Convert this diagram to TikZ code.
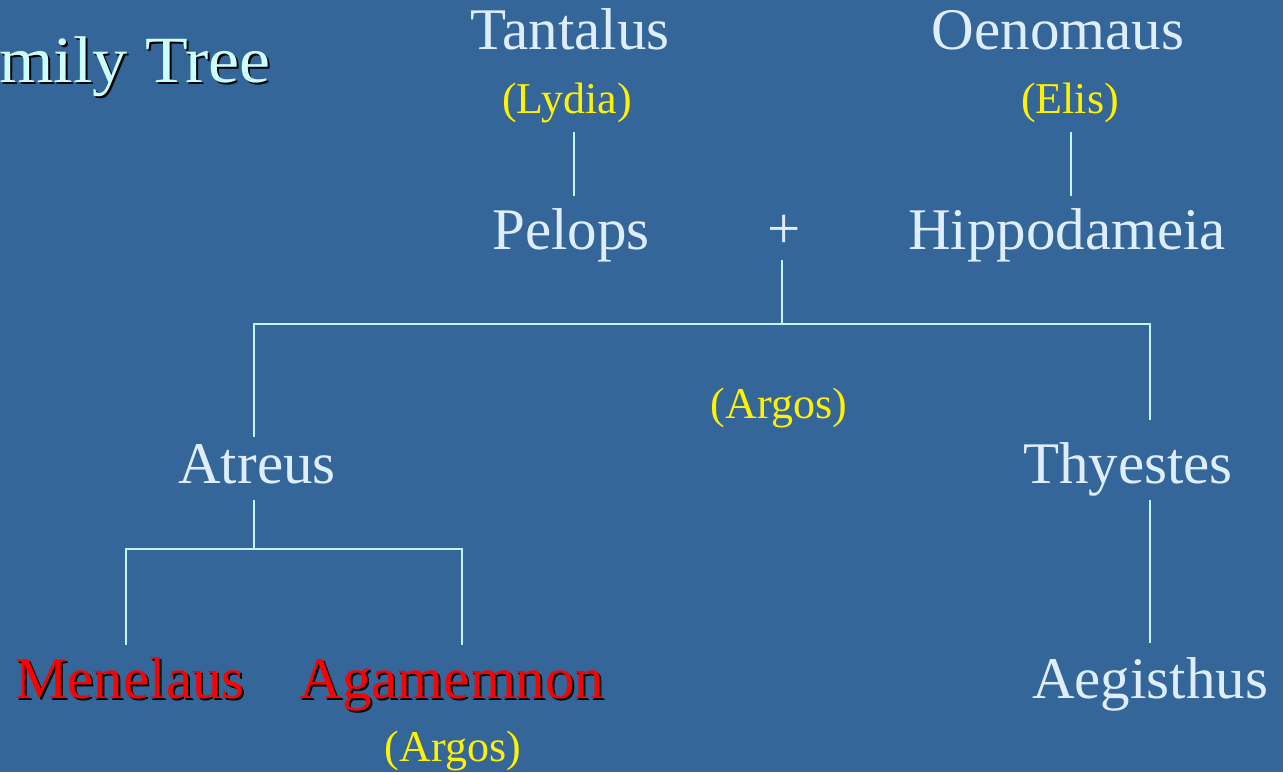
\documentclass[tikz,border=0pt]{standalone}
\usepackage{fontspec}
\setmainfont{Liberation Serif}

\definecolor{slide}{RGB}{52,102,153}
\definecolor{pale}{RGB}{222,238,255}
\definecolor{titlecol}{RGB}{204,255,255}
\definecolor{linkcol}{RGB}{200,245,250}

\begin{document}
\begin{tikzpicture}[x=1pt, y=-1pt,
    person/.style={text=pale, font=\fontsize{59}{70}\selectfont, inner sep=0pt, anchor=base},
    hero/.style={text=red, font=\fontsize{59}{70}\selectfont, inner sep=0pt, anchor=base},
    shade/.style={text=black, font=\fontsize{59}{70}\selectfont, inner sep=0pt, anchor=base},
    place/.style={text=yellow, font=\fontsize{44}{52}\selectfont, inner sep=0pt, anchor=base},
    link/.style={draw=linkcol, line width=2.2pt}]

    \useasboundingbox (0,0) rectangle (1283,772);
    \fill[slide] (0,0) rectangle (1283,772);
    \clip (0,0) rectangle (1283,772);

    % title, cut at the left edge
    \node[shade, font=\fontsize{66}{78}\selectfont, xscale=1.06, anchor=base east] (titleshade) at (273,84) {Family Tree};
    \node[person, text=titlecol, font=\fontsize{66}{78}\selectfont, xscale=1.06, anchor=base east] (title) at (271,82) {Family Tree};

    \node[person]   (tantalus)    at (570,49)  {Tantalus};
    \node[place]    (lydia)       at (567,113) {(Lydia)};
    \node[person]   (pelops)      at (571,249) {Pelops};

    \node[person]   (oenomaus)    at (1058,49)  {Oenomaus};
    \node[place]    (elis)        at (1070,113) {(Elis)};
    \node[person]   (hippodameia) at (1067,249) {Hippodameia};

    \node[person]   (plus)        at (784,248) {+};
    \node[place]    (argos)       at (779,418) {(Argos)};

    \node[person]   (atreus)      at (257,483)  {Atreus};
    \node[person]   (thyestes)    at (1128,483) {Thyestes};

    \node[shade]    (menelausshade)  at (132,700) {Menelaus};
    \node[hero]     (menelaus)       at (130,698) {Menelaus};
    \node[shade]    (agamemnonshade) at (454,700) {Agamemnon};
    \node[hero]     (agamemnon)      at (452,698) {Agamemnon};
    \node[place]    (argosb)         at (453,761) {(Argos)};

    \node[person]   (aegisthus)   at (1150,698) {Aegisthus};

    \coordinate (lydiastem)  at (574,132);
    \coordinate (pelopstem)  at (574,196);
    \coordinate (elisstem)   at (1071,132);
    \coordinate (hippostem)  at (1071,196);

    \coordinate (plusstem)   at (782,260);
    \coordinate (mid)        at (782,324);
    \coordinate (leftend)    at (254,324);
    \coordinate (rightend)   at (1150,324);
    \coordinate (atreusup)   at (254,437);
    \coordinate (thyestesup) at (1150,420);

    \coordinate (atreusdown) at (254,500);
    \coordinate (atreusmid)  at (254,549);
    \coordinate (menetop)    at (126,549);
    \coordinate (menebot)    at (126,645);
    \coordinate (agatop)     at (462,549);
    \coordinate (agabot)     at (462,645);

    \coordinate (thyestesdown) at (1150,500);
    \coordinate (aegup)        at (1150,643);

    \draw[link] (lydiastem) -- (pelopstem);
    \draw[link] (elisstem) -- (hippostem);
    \draw[link] (plusstem) -- (mid);
    \draw[link] (atreusup) -- (leftend) -- (rightend) -- (thyestesup);
    \draw[link] (atreusdown) -- (atreusmid);
    \draw[link] (menebot) -- (menetop) -- (agatop) -- (agabot);
    \draw[link] (thyestesdown) -- (aegup);
\end{tikzpicture}
\end{document}
